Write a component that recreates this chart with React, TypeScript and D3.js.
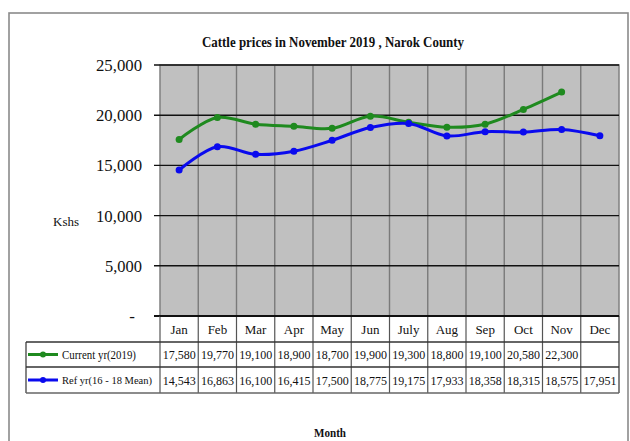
import React from "react";
import * as d3 from "d3";

const months = ["Jan", "Feb", "Mar", "Apr", "May", "Jun", "July", "Aug", "Sep", "Oct", "Nov", "Dec"];
const currentYr: (number | null)[] = [17580, 19770, 19100, 18900, 18700, 19900, 19300, 18800, 19100, 20580, 22300, null];
const refYr: number[] = [14543, 16863, 16100, 16415, 17500, 18775, 19175, 17933, 18358, 18315, 18575, 17951];
const yTicks = [0, 5000, 10000, 15000, 20000, 25000];
const seriesNames = ["Current yr(2019)", "Ref yr(16 - 18 Mean)"];
const title = "Cattle prices in November  2019 , Narok County";

const W = 630;
const H = 441;
const plotL = 160;
const plotR = 619;
const plotT = 65;
const plotB = 316;
const rowH = [26, 25, 26];
const green = "#1f8a1f";
const blue = "#0a0aee";
const font = "'Liberation Serif', 'Times New Roman', serif";

export default function App() {
  const x = d3.scaleBand<string>().domain(months).range([plotL, plotR]).padding(0);
  const y = d3.scaleLinear().domain([0, 25000]).range([plotB, plotT]);
  const cx = (m: string) => (x(m) as number) + x.bandwidth() / 2;

  const line = d3
    .line<[string, number | null]>()
    .defined((d) => d[1] !== null)
    .x((d) => cx(d[0]))
    .y((d) => y(d[1] as number))
    .curve(d3.curveCatmullRom.alpha(0.5));

  const curData = months.map((m, i) => [m, currentYr[i]] as [string, number | null]);
  const refData = months.map((m, i) => [m, refYr[i]] as [string, number | null]);
  const fmt = d3.format(",");

  const r0 = plotB;
  const r1 = r0 + rowH[0];
  const r2 = r1 + rowH[1];
  const r3 = r2 + rowH[2];
  const legL = 26;

  return (
    <svg width={W} height={H} style={{ position: "absolute", left: 0, top: 0, background: "#fff" }} fontFamily={font}>
      <rect x={9} y={13} width={619} height={500} fill="#fff" stroke="#8a8a8a" strokeWidth={1.6} />
      <text x={333} y={47} textAnchor="middle" fontSize={14} fontWeight="bold" textLength={262} lengthAdjust="spacingAndGlyphs" fill="#111">
        {title}
      </text>

      {/* plot area */}
      <rect x={plotL} y={plotT} width={plotR - plotL} height={plotB - plotT} fill="#c0c0c0" stroke="#808080" strokeWidth={1.5} />
      {months.map((m, i) =>
        i === 0 ? null : (
          <line key={m} x1={x(m)} x2={x(m)} y1={plotT} y2={plotB} stroke="#7a7a7a" strokeWidth={1.4} />
        )
      )}
      {yTicks.map((t) => (
        <line key={t} x1={plotL - 6} x2={plotR} y1={y(t)} y2={y(t)} stroke="#111" strokeWidth={t === 0 ? 2 : 1.4} />
      ))}
      {yTicks.map((t) => (
        <text
          key={"l" + t}
          x={t === 0 ? 135 : 142}
          y={y(t) + 6}
          textAnchor="end"
          fontSize={17}
          fill="#111"
          textLength={t === 0 ? undefined : t >= 10000 ? 46 : 37}
          lengthAdjust="spacingAndGlyphs"
        >
          {t === 0 ? "-" : fmt(t)}
        </text>
      ))}
      <text x={53} y={226} fontSize={12} fill="#111" textLength={26} lengthAdjust="spacingAndGlyphs">
        Kshs
      </text>

      {/* series */}
      <path d={line(curData) || ""} fill="none" stroke={green} strokeWidth={3} />
      <path d={line(refData) || ""} fill="none" stroke={blue} strokeWidth={3} />
      {curData.filter((d) => d[1] !== null).map((d) => (
        <circle key={"c" + d[0]} cx={cx(d[0])} cy={y(d[1] as number)} r={3.5} fill={green} />
      ))}
      {refData.map((d) => (
        <circle key={"r" + d[0]} cx={cx(d[0])} cy={y(d[1] as number)} r={3.5} fill={blue} />
      ))}

      {/* data table */}
      <rect x={plotL} y={r0} width={plotR - plotL} height={rowH[0]} fill="#fff" />
      <rect x={legL} y={r1} width={plotR - legL} height={r3 - r1} fill="#fff" />
      {months.map((m) => (
        <line key={"v" + m} x1={x(m)} x2={x(m)} y1={r0} y2={r3} stroke="#555" strokeWidth={1.2} />
      ))}
      <line x1={plotR} x2={plotR} y1={r0} y2={r3} stroke="#666" strokeWidth={1.6} />
      <line x1={legL} x2={legL} y1={r1} y2={r3} stroke="#666" strokeWidth={1.6} />
      <line x1={legL} x2={plotR} y1={r1} y2={r1} stroke="#333" strokeWidth={1.6} />
      <line x1={legL} x2={plotR} y1={r2} y2={r2} stroke="#333" strokeWidth={1.4} />
      <line x1={legL} x2={plotR} y1={r3} y2={r3} stroke="#666" strokeWidth={1.6} />
      <line x1={plotL} x2={plotR} y1={r0} y2={r0} stroke="#111" strokeWidth={2} />

      {months.map((m) => (
        <text key={"m" + m} x={cx(m)} y={r0 + 18} textAnchor="middle" fontSize={13} fill="#111">
          {m}
        </text>
      ))}
      {currentYr.map((v, i) =>
        v === null ? null : (
          <text key={"cv" + i} x={cx(months[i])} y={r1 + 17} textAnchor="middle" fontSize={13} fill="#111" textLength={33} lengthAdjust="spacingAndGlyphs">
            {fmt(v)}
          </text>
        )
      )}
      {refYr.map((v, i) => (
        <text key={"rv" + i} x={cx(months[i])} y={r2 + 18} textAnchor="middle" fontSize={13} fill="#111" textLength={33} lengthAdjust="spacingAndGlyphs">
          {fmt(v)}
        </text>
      ))}

      {/* legend keys */}
      <line x1={28} x2={58} y1={(r1 + r2) / 2} y2={(r1 + r2) / 2} stroke={green} strokeWidth={3} />
      <circle cx={43} cy={(r1 + r2) / 2} r={3} fill={green} />
      <text x={62} y={r1 + 17} fontSize={12} fill="#111" textLength={74} lengthAdjust="spacingAndGlyphs">
        {seriesNames[0]}
      </text>
      <line x1={28} x2={58} y1={(r2 + r3) / 2} y2={(r2 + r3) / 2} stroke={blue} strokeWidth={3} />
      <circle cx={43} cy={(r2 + r3) / 2} r={3} fill={blue} />
      <text x={62} y={r2 + 17} fontSize={11} fill="#111" textLength={90} lengthAdjust="spacingAndGlyphs">
        {seriesNames[1]}
      </text>

      <text x={330} y={437} textAnchor="middle" fontSize={13} fontWeight="bold" fill="#111" textLength={32} lengthAdjust="spacingAndGlyphs">
        Month
      </text>
    </svg>
  );
}
